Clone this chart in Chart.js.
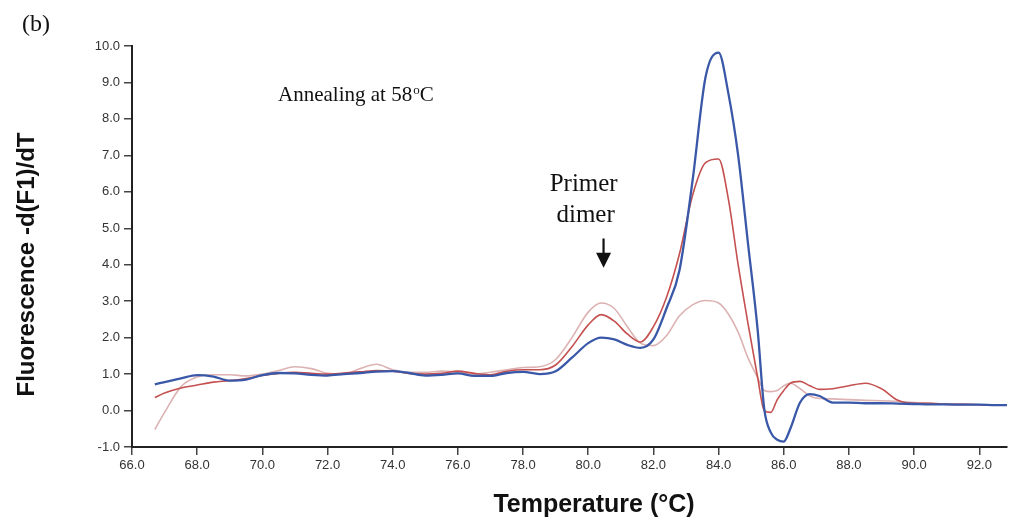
<!DOCTYPE html>
<html>
<head>
<meta charset="utf-8">
<script src="https://cdn.jsdelivr.net/npm/chart.js@4.4.1/dist/chart.umd.min.js"></script>
<style>
  html, body { margin: 0; padding: 0; background: #ffffff; }
  #wrap { width: 1009px; height: 519px; position: relative; }
</style>
</head>
<body>
<div id="wrap"><canvas id="c"></canvas></div>
<script>
// Temperature (°C) sample points
const temps = [66.7, 67.0, 67.5, 68.0, 68.5, 69.0, 69.5, 70.0, 70.5, 71.0, 71.5, 72.0, 72.5, 73.0, 73.5, 74.0,
  74.5, 75.0, 75.5, 76.0, 76.5, 77.0, 77.5, 78.0, 78.5, 79.0, 79.5, 80.0, 80.4, 80.8, 81.2, 81.6, 82.0, 82.4,
  82.8, 83.2, 83.6, 84.0, 84.3, 84.6, 84.9, 85.2, 85.4, 85.6, 85.8, 86.0, 86.2, 86.5, 86.8, 87.1, 87.5, 88.0,
  88.5, 89.0, 89.5, 90.0, 90.5, 91.0, 91.5, 92.0, 92.5, 92.85];

// -d(F1)/dT, dark blue trace
const blueCurve = [0.72, 0.78, 0.88, 0.97, 0.93, 0.82, 0.85, 0.97, 1.03, 1.02, 0.98, 0.96, 1.00, 1.03, 1.07, 1.08,
  1.03, 0.96, 0.98, 1.02, 0.95, 0.95, 1.03, 1.06, 1.00, 1.08, 1.45, 1.85, 2.00, 1.95, 1.80, 1.72, 1.95, 2.80,
  3.85, 6.30, 9.15, 9.82, 8.70, 7.00, 4.60, 2.20, 0.05, -0.60, -0.80, -0.85, -0.50, 0.22, 0.45, 0.40, 0.22, 0.22,
  0.20, 0.20, 0.19, 0.18, 0.17, 0.17, 0.16, 0.16, 0.15, 0.15];

// -d(F1)/dT, red trace
const redCurve = [0.36, 0.48, 0.62, 0.70, 0.78, 0.82, 0.88, 0.96, 1.02, 1.05, 1.02, 1.00, 1.03, 1.06, 1.10, 1.08,
  1.02, 1.00, 1.02, 1.08, 1.02, 0.98, 1.08, 1.12, 1.12, 1.25, 1.75, 2.35, 2.63, 2.45, 2.10, 1.88, 2.30, 3.10,
  4.30, 5.90, 6.80, 6.90, 5.80, 4.00, 2.40, 0.90, 0.00, -0.05, 0.30, 0.55, 0.75, 0.80, 0.68, 0.58, 0.60, 0.68,
  0.75, 0.60, 0.28, 0.20, 0.20, 0.17, 0.17, 0.16, 0.15, 0.15];

// -d(F1)/dT, light pink trace
const pinkCurve = [-0.52, -0.05, 0.65, 0.92, 0.98, 0.98, 0.95, 1.00, 1.10, 1.20, 1.15, 1.02, 1.00, 1.15, 1.27, 1.12,
  1.05, 1.05, 1.08, 1.05, 1.00, 1.05, 1.12, 1.18, 1.20, 1.40, 2.00, 2.70, 2.95, 2.80, 2.30, 1.85, 1.78, 2.05,
  2.60, 2.90, 3.02, 2.95, 2.65, 2.15, 1.45, 0.90, 0.55, 0.52, 0.55, 0.68, 0.75, 0.60, 0.40, 0.33, 0.32, 0.30,
  0.28, 0.27, 0.25, 0.22, 0.20, 0.18, 0.17, 0.16, 0.15, 0.15];

const xTickValues = [66, 68, 70, 72, 74, 76, 78, 80, 82, 84, 86, 88, 90, 92];
const yTickValues = [-1, 0, 1, 2, 3, 4, 5, 6, 7, 8, 9, 10];

const toPoints = arr => temps.map((t, i) => ({ x: t, y: arr[i] }));

const annotations = {
  id: 'annotations',
  afterDraw(chart) {
    const { ctx } = chart;
    const xs = chart.scales.x, ys = chart.scales.y;
    const px = v => xs.getPixelForValue(v), py = v => ys.getPixelForValue(v);
    ctx.save();
    ctx.fillStyle = '#111';
    ctx.strokeStyle = '#111';
    ctx.textBaseline = 'alphabetic';

    // panel label
    ctx.textAlign = 'left';
    ctx.font = '24px "Liberation Serif"';
    ctx.fillText('(b)', 22, 31);

    // Annealing at 58°C
    const ax = px(70.48), ay = py(8.48);
    ctx.font = '21px "Liberation Serif"';
    const main = 'Annealing at 58';
    ctx.fillText(main, ax, ay);
    const w1 = ctx.measureText(main).width;
    ctx.font = '13px "Liberation Serif"';
    ctx.fillText('o', ax + w1 + 1, ay - 7);
    const w2 = ctx.measureText('o').width;
    ctx.font = '21px "Liberation Serif"';
    ctx.fillText('C', ax + w1 + w2 + 1, ay);

    // Primer dimer
    ctx.textAlign = 'center';
    ctx.font = '25px "Liberation Serif"';
    ctx.fillText('Primer', px(79.86), py(6.01));
    ctx.fillText('dimer', px(79.92), py(5.16));

    // arrow
    const arx = px(80.47), top = py(4.72), tip = py(3.92);
    ctx.lineWidth = 2.2;
    ctx.beginPath();
    ctx.moveTo(arx, top);
    ctx.lineTo(arx, tip - 12);
    ctx.stroke();
    ctx.beginPath();
    ctx.moveTo(arx - 7.5, tip - 15);
    ctx.lineTo(arx + 7.5, tip - 15);
    ctx.lineTo(arx, tip);
    ctx.closePath();
    ctx.fill();

    // axis titles
    ctx.font = 'bold 25px "Liberation Sans"';
    ctx.textAlign = 'center';
    ctx.fillText('Temperature (\u00B0C)', 594, 512);

    ctx.translate(34, 264.5);
    ctx.rotate(-Math.PI / 2);
    ctx.font = 'bold 24px "Liberation Sans"';
    ctx.fillText('Fluorescence -d(F1)/dT', 0, 0);
    ctx.restore();
  }
};

const tickFont = { family: '"Liberation Sans", Arial, sans-serif', size: 13 };

new Chart(document.getElementById('c'), {
  type: 'line',
  data: {
    datasets: [
      { label: 'Blue', data: toPoints(blueCurve), borderColor: '#3a58a8', borderWidth: 2.3 },
      { label: 'Red', data: toPoints(redCurve), borderColor: '#c4504f', borderWidth: 1.6 },
      { label: 'Pink', data: toPoints(pinkCurve), borderColor: '#dcb2b2', borderWidth: 1.6 }
    ].map(d => Object.assign(d, { pointRadius: 0, fill: false, cubicInterpolationMode: 'monotone' }))
  },
  options: {
    responsive: true,
    maintainAspectRatio: false,
    animation: false,
    layout: { padding: { top: 46, right: 2, left: 0, bottom: 0 } },
    plugins: { legend: { display: false }, tooltip: { enabled: false } },
    scales: {
      x: {
        type: 'linear', min: 66, max: 92.85,
        afterBuildTicks: s => { s.ticks = xTickValues.map(v => ({ value: v })); },
        afterFit: s => { s.height = 72; },
        ticks: { callback: v => Number(v).toFixed(1), font: tickFont, color: '#333', maxRotation: 0, autoSkip: false, padding: 3 },
        grid: { drawOnChartArea: false, drawTicks: true, tickLength: 8, color: '#444', lineWidth: 1.5 },
        border: { display: true, color: '#222', width: 2 }
      },
      y: {
        type: 'linear', min: -1, max: 10,
        afterBuildTicks: s => { s.ticks = yTickValues.map(v => ({ value: v })); },
        afterFit: s => { s.width = 132; },
        ticks: { callback: v => Number(v).toFixed(1), font: tickFont, color: '#333', padding: 4 },
        grid: { drawOnChartArea: false, drawTicks: true, tickLength: 8, color: '#444', lineWidth: 1.5 },
        border: { display: true, color: '#222', width: 2 }
      }
    }
  },
  plugins: [annotations]
});
</script>
</body>
</html>
